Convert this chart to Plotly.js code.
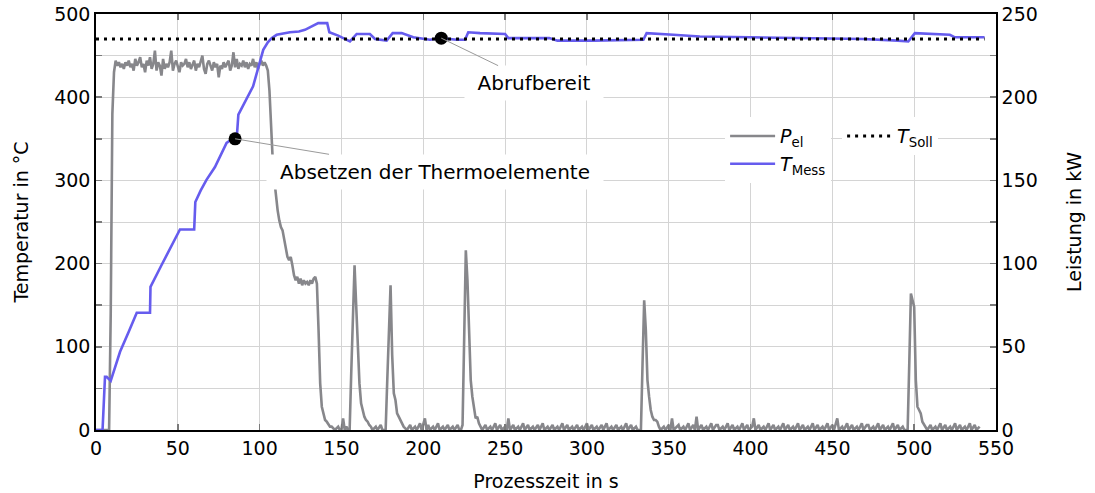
<!DOCTYPE html>
<html>
<head>
<meta charset="utf-8">
<script src="https://cdn.plot.ly/plotly-3.0.1.min.js"></script>
<style>html,body{margin:0;padding:0;background:#fff;}#chart{width:1095px;height:493px;}</style>
</head>
<body>
<div id="chart"></div>
<script>
// ---- Data ----
// Measured temperature T_Mess (°C) over process time (s)
const tMessTime = [0, 4, 5.5, 6.5, 9, 14.7, 20, 24.9, 33, 33.3, 40, 46, 51.3, 60, 60.7, 64, 67.6, 72.7, 76, 79.8,
  82, 85, 86, 87, 92, 96, 102.2, 105, 107.3, 110.4, 118.5, 124, 127.7, 131, 135.8, 141.3, 142.6, 148, 155.2, 159.3,
  167.4, 170.5, 177.6, 181.3, 186.8, 193.9, 204, 211, 220.4, 225.5, 227.5, 234.7, 250, 252, 277, 282, 304, 334.5, 336.5, 352.8,
  369, 399.6, 440, 468.8, 490, 496.4, 500.4, 521.8, 524.9, 543];
const tMessTemp = [0, 0, 64, 64, 59, 94, 118, 141, 141, 172, 198, 220, 241, 241, 274, 288, 301, 316, 330, 345,
  348, 350, 351, 379, 398, 413, 457, 466, 471, 475, 478, 479, 481, 484, 489, 489, 478, 474, 467, 476,
  476, 470, 468, 477, 477, 472, 469, 471, 469, 469, 478, 477, 476, 471, 471, 468, 468, 469, 477, 475,
  473, 472, 471, 470, 468, 467, 477, 475, 472, 472];

// Set-point temperature T_Soll (°C)
const tSollTime = [0, 543];
const tSollTemp = [470, 470];

// Electric power P_el (kW): [time s, power kW]
const pelSamples = [
  [0,0],[8,0],[9,70],[10,190],[11,215],
  [12,222],[13,219],[14,221],[15,218],[16,220],[17,217],[18,221],[19,219],[20,222],[21,218],
  [22,220],[23,216],[24,223],[25,219],[26,221],[27,224],[28,218],[29,220],[30,215],[31,222],
  [32,219],[33,224],[34,217],[35,220],[36,228],[37,216],[38,221],[39,219],[40,213],[41,223],
  [42,217],[43,220],[44,218],[45,221],[46,228],[47,216],[48,220],[49,222],[50,218],[51,215],
  [52,221],[53,219],[54,220],[55,223],[56,218],[57,221],[58,217],[59,219],[60,222],[61,216],
  [62,220],[63,218],[64,221],[65,225],[66,217],[67,214],[68,220],[69,222],[70,219],[71,216],
  [72,221],[73,218],[74,220],[75,212],[76,219],[77,217],[78,221],[79,218],[80,220],[81,222],
  [82,216],[83,219],[84,227],[85,218],[86,223],[87,217],[88,220],[89,219],[90,222],[91,218],
  [92,221],[93,217],[94,220],[95,219],[96,223],[97,218],[98,221],[99,217],[100,220],[101,222],
  [102,219],[103,221],[104,219],[105,216],[106,204],[107,182],[108,162],[109,150],[110,140],[111,132],
  [112,126],[113,122],[114,120],[115,114],[116,108],[117,104],[118,102],[119,104],[120,99],[121,93],
  [122,90],[123,92],[124,88],[125,91],[126,87],[127,90],[128,88],[129,89],[130,87],[131,90],
  [132,88],[133,91],[134,92],[135,88],[136,60],[137,28],[138,14],[139,9],[140,6],[141,5],
  [142,3],[143,2],[144,2],[145,1],[146,0],[148,2],[149,0],[150,0],[151,7],[152,0],[153,2],[154,0],
  [155,0],[156,35],[157,70],[158,99],[159,75],[160,48],[161,28],[162,16],[163,11],[164,8],[165,6],[166,5],[167,3],[168,2],[169,0],
  [171,2],[172,0],[174,3],[175,0],[176,0],
  [177,0],[178,30],[179,62],[180,87],[181,45],[182,22],[183,18],[184,10],[185,8],[186,6],[187,4],[188,2],[189,1],[190,0],
  [192,3],[193,0],[195,2],[196,0],[198,4],[199,0],[201,7],[202,0],[203,3],[204,0],[206,2],[207,0],[209,4],[210,0],
  [212,2],[213,0],[215,3],[216,0],[218,2],[219,0],[221,3],[222,0],
  [223,0],[224,3],[225,55],[226,108],[227,90],[228,55],[229,30],[230,20],[231,12],[232,7],[233,8],[234,4],[235,2],[236,0],
  [238,3],[239,0],[241,2],[242,0],[244,4],[245,0],[247,3],[248,0],[250,2],[251,0],[252,7],[253,0],[255,3],[256,0],
  [258,2],[259,0],[261,4],[262,0],[264,3],[265,0],[267,2],[268,0],[270,3],[271,0],[273,4],[274,0],[276,2],[277,0],
  [279,3],[280,0],[282,2],[283,0],[285,4],[286,0],[288,3],[289,0],[291,2],[292,0],[294,3],[295,0],[297,2],[298,0],
  [300,4],[301,0],[303,3],[304,0],[306,2],[307,0],[309,3],[310,0],[312,4],[313,0],[315,2],[316,0],[318,3],[319,0],
  [321,2],[322,0],[324,4],[325,0],[327,3],[328,0],[330,2],[331,0],[332,0],
  [333,0],[334,40],[335,78],[336,60],[337,30],[338,20],[339,12],[340,8],[341,6],[342,6],[343,5],[344,2],[345,0],
  [347,2],[348,0],[350,3],[351,0],[352,7],[353,0],[356,3],[357,0],[359,2],[360,0],[362,4],[363,0],[365,3],[366,0],
  [367,8],[368,0],[370,3],[371,0],[373,2],[374,0],[376,4],[377,0],[379,3],[380,3],[381,0],[383,2],[384,0],[386,4],
  [387,0],[389,3],[390,0],[392,2],[393,0],[395,4],[396,0],[398,3],[399,0],[401,2],[402,7],[403,0],[405,3],[406,0],
  [408,2],[409,0],[411,4],[412,0],[414,3],[415,0],[417,2],[418,0],[420,4],[421,0],[423,3],[424,0],[426,2],[427,0],
  [429,4],[430,0],[432,3],[433,0],[435,2],[436,0],[438,4],[439,0],[441,3],[442,0],[444,2],[445,0],[447,4],[448,0],
  [450,3],[451,0],[453,7],[454,0],[456,2],[457,0],[459,4],[460,0],[462,3],[463,0],[465,2],[466,0],[468,4],[469,0],
  [471,3],[472,3],[473,0],[475,2],[476,0],[478,4],[479,0],[481,3],[482,0],[484,2],[485,0],[487,4],[488,0],[490,3],
  [491,0],[493,2],[494,0],[496,0],
  [497,40],[498,82],[499,78],[500,74],[501,30],[502,14],[503,12],[504,10],[505,5],[506,3],[507,1],[508,0],
  [510,3],[511,0],[513,2],[514,0],[516,4],[517,0],[519,3],[520,0],[522,2],[523,0],[525,4],[526,0],[528,3],[529,0],
  [531,2],[532,0],[534,4],[535,0],[537,3],[538,0],[540,2]
];
const pelTime = pelSamples.map(p => p[0]);
const pelPower = pelSamples.map(p => p[1]);

// Highlighted events
const eventTime = [85, 211];
const eventTemp = [350, 471];
const eventLabels = ['Absetzen der Thermoelemente', 'Abrufbereit'];
const eventOffsetX = [200, 93];
const eventOffsetY = [33, 45];
const eventBoxWidth = [332, 134];

// Axis ticks
const xTicks = [0, 50, 100, 150, 200, 250, 300, 350, 400, 450, 500, 550];
const yTicks = [0, 100, 200, 300, 400, 500];
const y2Ticks = [0, 50, 100, 150, 200, 250];

// ---- Styles ----
const FONT = 'DejaVu Sans, sans-serif';
const gridColor = '#d4d4d4';
const tickColor = '#7a7a7a';

const traces = [
  {
    x: pelTime, y: pelPower, yaxis: 'y2', type: 'scatter', mode: 'lines',
    name: '<i>P</i><sub>el</sub>', legend: 'legend',
    line: {color: '#87878b', width: 2.6}, hoverinfo: 'skip'
  },
  {
    x: tMessTime, y: tMessTemp, yaxis: 'y', type: 'scatter', mode: 'lines',
    name: '<i>T</i><sub>Mess</sub>', legend: 'legend',
    line: {color: 'rgb(102,92,238)', width: 2.6}, hoverinfo: 'skip'
  },
  {
    x: tSollTime, y: tSollTemp, yaxis: 'y', type: 'scatter', mode: 'lines',
    name: '<i>T</i><sub>Soll</sub>', legend: 'legend2',
    line: {color: '#000', width: 3, dash: '3px,5px'}, hoverinfo: 'skip'
  },
  {
    x: eventTime, y: eventTemp, yaxis: 'y', type: 'scatter', mode: 'markers',
    showlegend: false, marker: {color: '#000', size: 13}, hoverinfo: 'skip'
  }
];

const annotations = eventLabels.map((txt, i) => ({
  x: eventTime[i], y: eventTemp[i], xref: 'x', yref: 'y',
  text: txt, showarrow: true, arrowhead: 0, arrowwidth: 1, arrowcolor: '#9a9a9a',
  ax: eventOffsetX[i], ay: eventOffsetY[i], standoff: 0,
  width: eventBoxWidth[i], height: 30,
  bgcolor: '#fff', borderpad: 2,
  font: {family: FONT, size: 20, color: '#000'}
}));

const layout = {
  width: 1095, height: 493,
  margin: {l: 96, r: 99, t: 14, b: 63},
  paper_bgcolor: '#fff', plot_bgcolor: '#fff',
  font: {family: FONT, size: 19, color: '#000'},
  showlegend: true,
  xaxis: {
    range: [0, 550], tickvals: xTicks, ticktext: xTicks.map(String),
    ticks: 'inside', ticklen: 6, tickcolor: tickColor, tickwidth: 1.5,
    showgrid: true, gridcolor: gridColor, gridwidth: 1,
    showline: true, linecolor: '#000', linewidth: 1.8, mirror: 'ticks',
    zeroline: false, tickfont: {family: FONT, size: 19},
    title: {text: 'Prozesszeit in s', font: {family: FONT, size: 19}, standoff: 17},
    automargin: false, fixedrange: true
  },
  yaxis2: {
    range: [0, 250], tickvals: y2Ticks, ticktext: y2Ticks.map(String),
    side: 'right', anchor: 'x',
    ticks: 'inside', ticklen: 6, tickcolor: tickColor, tickwidth: 1.5,
    minor: {dtick: 25, ticks: 'inside', ticklen: 6, tickcolor: tickColor, tickwidth: 1.5, showgrid: false},
    showgrid: false, showline: true, linecolor: '#000', linewidth: 1.8,
    zeroline: false, tickfont: {family: FONT, size: 19},
    title: {text: 'Leistung in kW', font: {family: FONT, size: 19}, standoff: 31},
    automargin: false, fixedrange: true
  },
  yaxis: {
    range: [0, 500], tickvals: yTicks, ticktext: yTicks.map(String),
    overlaying: 'y2', side: 'left', anchor: 'x',
    ticks: 'inside', ticklen: 6, tickcolor: tickColor, tickwidth: 1.5,
    minor: {dtick: 50, ticks: 'inside', ticklen: 6, tickcolor: tickColor, tickwidth: 1.5, showgrid: true, gridcolor: gridColor, gridwidth: 1},
    showgrid: true, gridcolor: gridColor, gridwidth: 1,
    showline: true, linecolor: '#000', linewidth: 1.8,
    zeroline: false, tickfont: {family: FONT, size: 19},
    title: {text: 'Temperatur in °C', font: {family: FONT, size: 19}, standoff: 20},
    automargin: false, fixedrange: true
  },
  legend: {
    x: 0.699, y: 0.752, xanchor: 'left', yanchor: 'top',
    bgcolor: '#fff', borderwidth: 0, itemwidth: 45,
    font: {family: FONT, size: 19}, traceorder: 'normal', tracegroupgap: 0
  },
  legend2: {
    x: 0.829, y: 0.752, xanchor: 'left', yanchor: 'top',
    bgcolor: '#fff', borderwidth: 0, itemwidth: 45,
    font: {family: FONT, size: 19}
  },
  annotations: annotations
};

Plotly.newPlot('chart', traces, layout, {displayModeBar: false, staticPlot: true});
</script>
</body>
</html>
